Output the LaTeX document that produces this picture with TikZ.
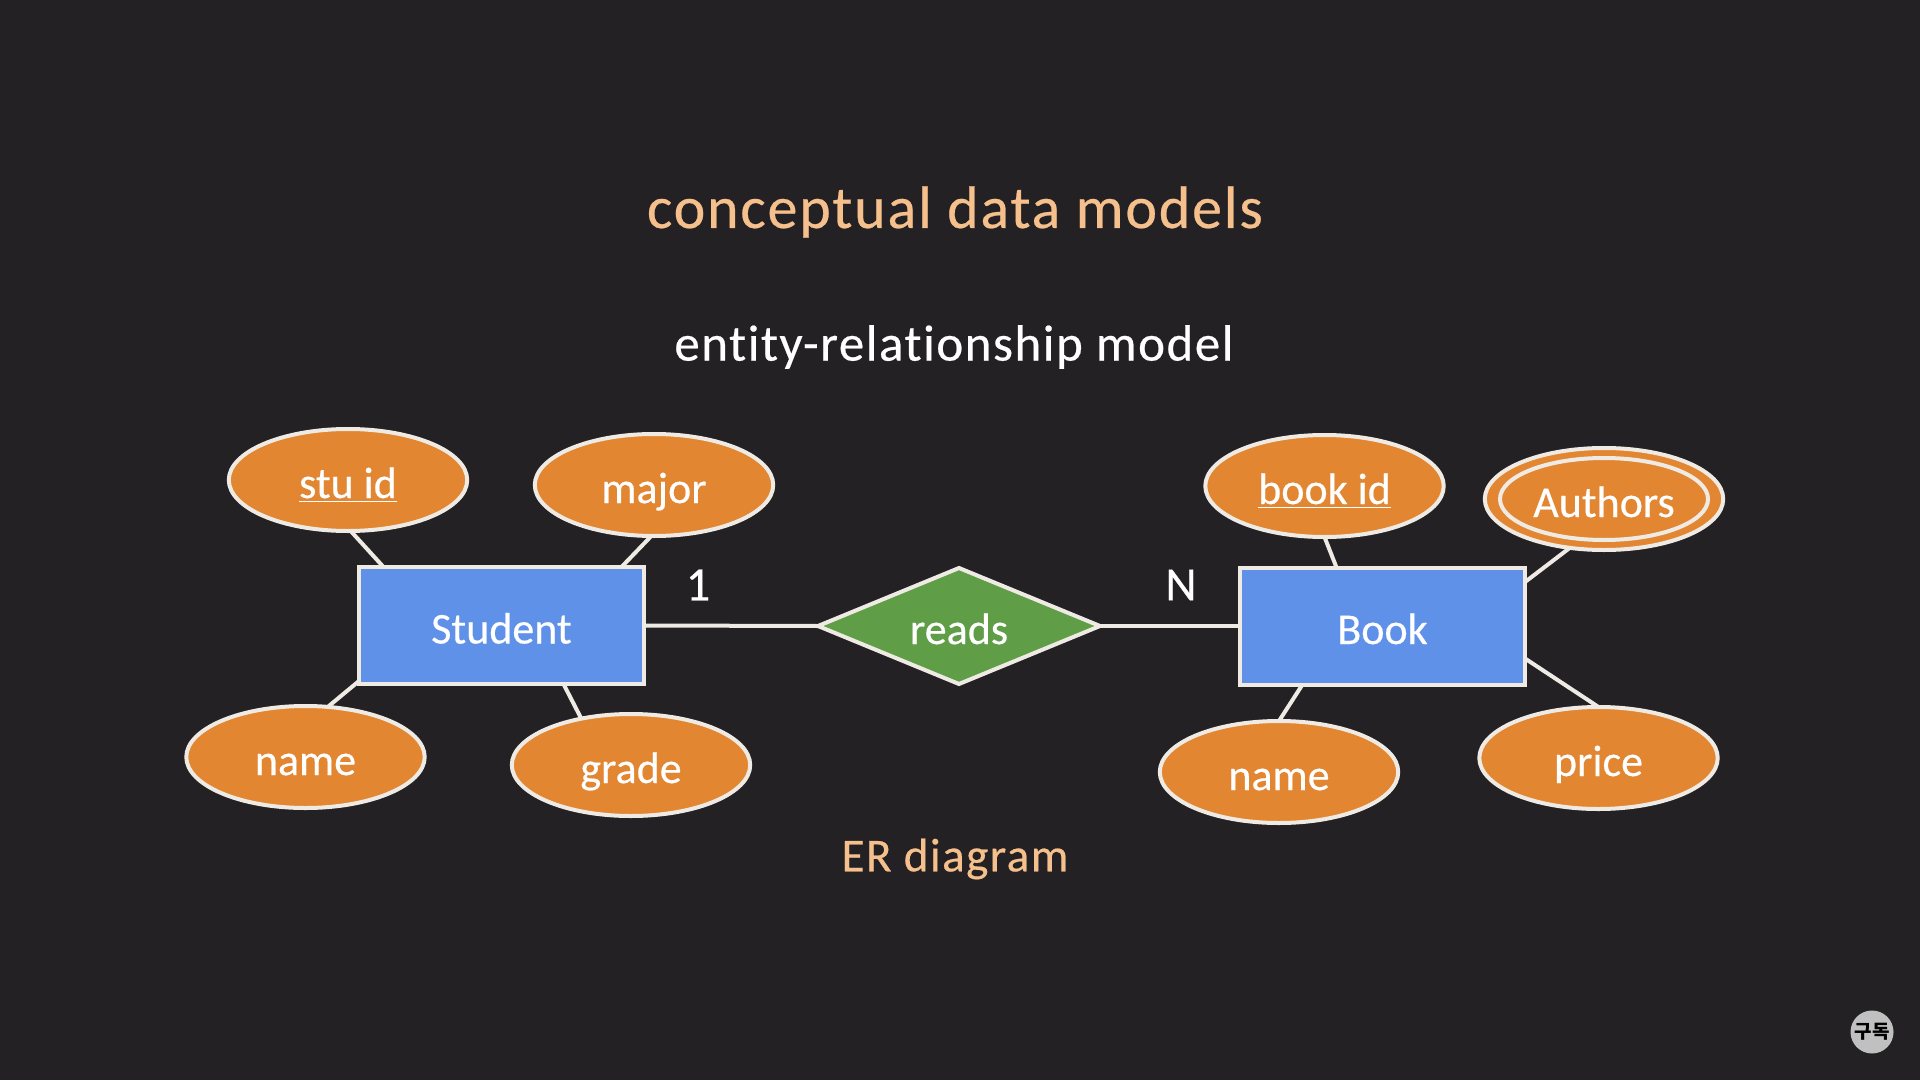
\documentclass[tikz,border=0pt]{standalone}
\usepackage{fontspec}
\usetikzlibrary{shapes.geometric}
\setmainfont{Carlito}[Ligatures=NoCommon]
\newfontfamily\nodefont{Carlito}[Ligatures=NoCommon,FakeBold=0.4]
\newfontfamily\headfont{Carlito}[Ligatures=NoCommon,FakeBold=0.4,LetterSpace=3]
\newfontfamily\krfont{Noto Sans CJK KR}
\definecolor{bgc}{HTML}{232124}
\definecolor{orangec}{HTML}{E28632}
\definecolor{bluec}{HTML}{6091E9}
\definecolor{greenc}{HTML}{5F9E47}
\definecolor{peachc}{HTML}{F6C08C}
\definecolor{edgec}{HTML}{EFEBE4}
\definecolor{badgec}{HTML}{C0C0C0}
\tikzset{
  labeltext/.style={inner sep=0pt,outer sep=0pt,text=white,font=\nodefont\fontsize{22}{26}\selectfont,text height=18pt,text depth=0pt},
  attr/.style={labeltext,shape=ellipse,draw=edgec,fill=orangec,line width=2pt,minimum width=119.2pt,minimum height=51pt},
  entity/.style={labeltext,shape=rectangle,draw=edgec,fill=bluec,line width=2pt,minimum width=142.5pt,minimum height=58.5pt},
  rel/.style={labeltext,shape=diamond,shape aspect=2.37,draw=edgec,fill=greenc,line width=2pt,minimum width=141pt,minimum height=58pt},
  link/.style={draw=edgec,line width=2pt},
  title/.style={inner sep=0pt,text=peachc,font=\headfont\fontsize{30}{36}\selectfont},
  subtitle/.style={inner sep=0pt,text=white,font=\headfont\fontsize{25.5}{32}\selectfont},
  caption/.style={inner sep=0pt,text=peachc,font=\headfont\fontsize{23.6}{28}\selectfont},
  card/.style={inner sep=0pt,text=white,font=\nodefont\fontsize{24}{28}\selectfont}
}
\begin{document}
\begin{tikzpicture}[x=0.5pt,y=-0.5pt]
\fill[bgc] (0,0) rectangle (1920,1080);
\useasboundingbox (0,0) rectangle (1920,1080);
\node[title] (ttl) at (955,212) {conceptual data models};
\node[subtitle] (sub) at (954,347) {entity-relationship model};
\node[caption] (cap) at (955,859) {ER diagram};
\node[card] (one) at (698,585) {1};
\node[card] (many) at (1181,585) {N};
\node[entity] (student) at (501.5,625.5) {Student};
\node[entity] (book) at (1382.5,626) {Book};
\node[rel] (reads) at (959,626) {reads};
\node[attr] (stuid) at (348,480) {\underline{stu id}};
\node[attr] (major) at (654,485) {major};
\node[attr] (sname) at (305.5,757) {name};
\node[attr] (grade) at (631,765) {grade};
\node[attr] (bookid) at (1324.5,486) {\underline{book id}};
\node[attr] (authors) at (1604,499) {};
\node[attr,minimum width=104pt,minimum height=41pt] (authin) at (1604,499) {Authors};
\node[attr] (bname) at (1279,772) {name};
\node[attr] (price) at (1598.5,758) {price};
\draw[link] (student.east) -- (reads.west);
\draw[link] (reads.east) -- (book.west);
\draw[link] (stuid.273) -- ([xshift=-59pt]student.north);
\draw[link] (major.267) -- ([xshift=60pt]student.north);
\draw[link] (sname.66) -- ([yshift=1.5pt]student.south west);
\draw[link] (grade.137) -- ([xshift=31pt]student.south);
\draw[link] (bookid.south) -- ([xshift=-23pt]book.north);
\draw[link] (authors.235) -- ([yshift=22pt]book.east);
\draw[link] (bname.north) -- ([xshift=-40pt]book.south);
\draw[link] (price.north) -- ([yshift=13pt]book.south east);
\node[circle,fill=badgec,inner sep=-1pt,minimum size=21.5pt,text=black,font=\krfont\fontsize{9.5}{11}\selectfont\bfseries] (badge) at (1872,1032) {구독};
\end{tikzpicture}
\end{document}
